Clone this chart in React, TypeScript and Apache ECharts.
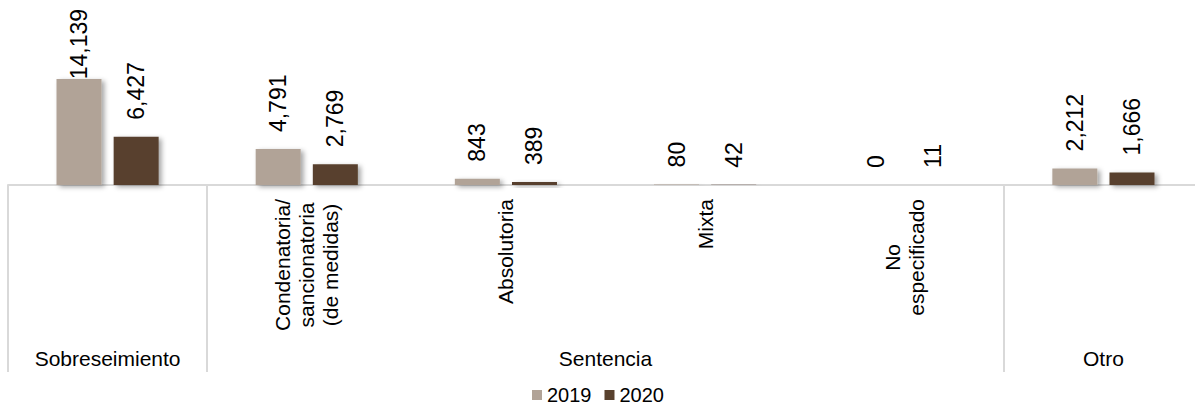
import React, { useEffect, useRef } from "react";
import * as echarts from "echarts";

const categories = [
  "Sobreseimiento",
  "Condenatoria/\nsancionatoria\n(de medidas)",
  "Absolutoria",
  "Mixta",
  "No\nespecificado",
  "Otro",
];
const showCategoryLabel = [false, true, true, true, true, false];
const values2019 = [14139, 4791, 843, 80, 0, 2212];
const values2020 = [6427, 2769, 389, 42, 11, 1666];
const groupNames = ["Sobreseimiento", "Sentencia", "Otro"];
const groupSpans = [1, 4, 1];
const seriesNames = ["2019", "2020"];

const FONT = "'Liberation Sans', Arial, sans-serif";
const GRID_LINE = "#D9D9D9";
const LABEL_DIST = 17;
const LABEL_TOP_LIMIT = 9;
const LABEL_FONT_SIZE = 23;

const fmt = (v: number) => Number(v).toLocaleString("en-US");

export default function App() {
  const ref = useRef<HTMLDivElement>(null);

  useEffect(() => {
    document.body.style.margin = "0";
    if (!ref.current) return;
    const chart = echarts.init(ref.current, undefined, { renderer: "svg" });

    const boundaries: number[] = [0];
    const centers: number[] = [];
    let acc = 0;
    groupSpans.forEach((s) => {
      centers.push(acc + s / 2);
      acc += s;
      boundaries.push(acc);
    });
    const tickValues = boundaries.slice(0, boundaries.length - 1);

    const labelStyle = {
      show: true,
      position: "top" as const,
      rotate: 90,
      align: "left" as const,
      verticalAlign: "middle" as const,
      distance: LABEL_DIST,
      fontSize: LABEL_FONT_SIZE,
      fontFamily: FONT,
      color: "#000",
      formatter: (p: any) => fmt(p.value),
    };

    const shadow = {
      shadowBlur: 5,
      shadowColor: "rgba(0,0,0,0.35)",
      shadowOffsetX: 3,
      shadowOffsetY: 2,
    };

    const allValues = [values2019, values2020];
    const colors = ["#B1A397", "#58412E"];

    const makeSeries = (dataFor: (si: number) => any[]) =>
      allValues.map((_, si) => ({
        name: seriesNames[si],
        type: "bar",
        data: dataFor(si),
        barWidth: 45,
        barGap: "27%",
        itemStyle: { color: colors[si], ...shadow },
        label: labelStyle,
      }));

    chart.setOption({
      animation: false,
      textStyle: { fontFamily: FONT },
      grid: { left: 8, width: 1195, top: 38, height: 147 },
      legend: {
        data: seriesNames,
        top: 385,
        left: 532,
        icon: "rect",
        itemWidth: 10,
        itemHeight: 10,
        itemGap: 13,
        padding: 0,
        textStyle: { fontSize: 20, lineHeight: 20, fontFamily: FONT, color: "#000" },
      },
      xAxis: [
        {
          type: "category",
          data: categories,
          axisLine: { show: true, lineStyle: { color: GRID_LINE, width: 2 } },
          axisTick: { show: false },
          axisLabel: {
            interval: 0,
            rotate: 90,
            margin: 14,
            color: "#000",
            fontSize: 21,
            fontFamily: FONT,
            formatter: (v: string, i: number) =>
              showCategoryLabel[i]
                ? v
                    .split("\n")
                    .map((l) => `{c|${l}}`)
                    .join("\n")
                : "",
            rich: {
              c: {
                align: "center",
                fontSize: 21,
                lineHeight: 24,
                fontFamily: FONT,
                color: "#000",
              },
            },
          },
        },
        {
          type: "value",
          min: 0,
          max: 6,
          position: "bottom",
          offset: 0,
          axisLine: { show: false },
          splitLine: { show: false },
          axisTick: {
            show: true,
            customValues: tickValues,
            length: 187,
            lineStyle: { color: GRID_LINE, width: 2 },
          },
          axisLabel: {
            show: true,
            customValues: centers,
            margin: 163,
            color: "#000",
            fontSize: 21,
            fontFamily: FONT,
            formatter: (v: number) => {
              const idx = centers.findIndex((c) => Math.abs(c - v) < 1e-6);
              return idx >= 0 ? groupNames[idx] : "";
            },
          },
        },
      ],
      yAxis: {
        type: "value",
        min: 0,
        max: 19600,
        show: false,
        splitLine: { show: false },
      },
      series: makeSeries((si) => allValues[si]),
    });

    // Keep labels inside the top edge, as the original does: shorten the
    // label distance for bars whose label would run past the top.
    const canvas = document.createElement("canvas");
    const ctx = canvas.getContext("2d");
    if (ctx) {
      ctx.font = `${LABEL_FONT_SIZE}px ${FONT}`;
      chart.setOption({
        series: makeSeries((si) =>
          allValues[si].map((v, i) => {
            const pt = chart.convertToPixel({ seriesIndex: si }, [i, v]) as number[];
            const len = ctx.measureText(fmt(v)).width;
            const room = pt[1] - LABEL_TOP_LIMIT - len;
            if (room < LABEL_DIST) {
              return { value: v, label: { distance: Math.max(room, -4) } };
            }
            return v;
          })
        ),
      });
    }

    return () => chart.dispose();
  }, []);

  return (
    <div style={{ width: 1195, height: 406, overflow: "hidden" }}>
      <div ref={ref} style={{ width: 1205, height: 406 }} />
    </div>
  );
}
